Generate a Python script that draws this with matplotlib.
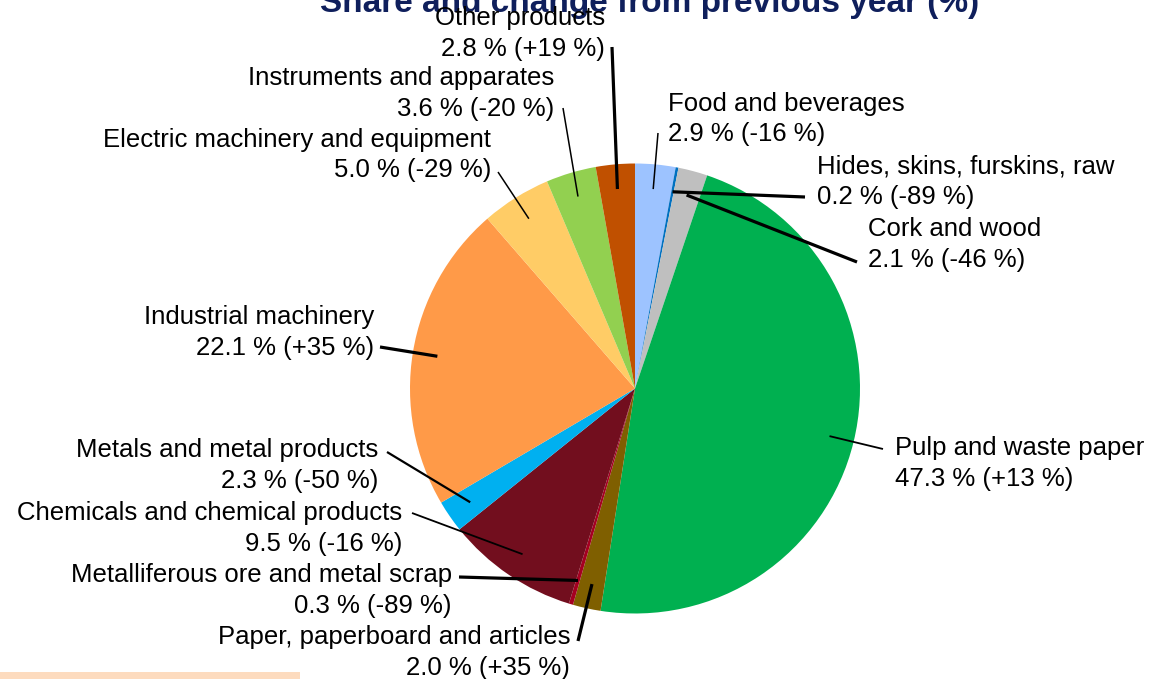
import matplotlib
matplotlib.use('Agg')
import matplotlib.pyplot as plt
import numpy as np

plt.rcParams['font.family'] = ['Liberation Sans', 'DejaVu Sans']

# ---- data ----
categories = ["Food and beverages", "Hides, skins, furskins, raw", "Cork and wood",
              "Pulp and waste paper", "Paper, paperboard and articles",
              "Metalliferous ore and metal scrap", "Chemicals and chemical products",
              "Metals and metal products", "Industrial machinery",
              "Electric machinery and equipment", "Instruments and apparates",
              "Other products"]
shares = [2.9, 0.2, 2.1, 47.3, 2.0, 0.3, 9.5, 2.3, 22.1, 5.0, 3.6, 2.8]
changes = ["-16", "-89", "-46", "+13", "+35", "-89", "-16", "-50", "+35", "-29", "-20", "+19"]
title = "Share and change from previous year (%)"

# ---- styling / layout ----
colors = ["#9DC3FF", "#0070C0", "#BFBFBF", "#00B050", "#7F5F00", "#A50021",
          "#720E1E", "#00B0F0", "#FF9A48", "#FFCC66", "#92D050", "#C05000"]
W, H = 1150, 679
cx, cy, R = 635, 388.5, 225

# label text anchor (px), horizontal alignment, leader outer end (px), leader width
label_pos = [(668, 119), (817, 181.5), (868, 244.5), (895, 463.5), (570, 652.5), (452, 590.5),
             (402, 528.5), (378, 465.5), (374, 332.5), (491, 155), (554, 93.5), (605, 33.5)]
label_ha = ["left", "left", "left", "left", "right", "right",
            "right", "right", "right", "right", "right", "right"]
leader_out = [(658, 133), (805, 197), (857, 262), (883, 449), (578, 641), (459, 577),
              (412, 513), (387, 452), (380, 347), (498, 172), (563, 108), (612, 47)]
leader_lw = [1.1, 2.3, 2.3, 1.3, 2.3, 2.3, 1.3, 1.6, 2.3, 1.1, 1.1, 2.3]


def Y(y):
    return H - y


fig = plt.figure(figsize=(W / 100, H / 100), dpi=100)
ax = fig.add_axes([0, 0, 1, 1])

wedges, _ = ax.pie(shares, colors=colors, startangle=90, counterclock=False,
                   center=(cx, Y(cy)), radius=R,
                   wedgeprops=dict(linewidth=0))

for i, w in enumerate(wedges):
    th = np.deg2rad((w.theta1 + w.theta2) / 2)
    ix = cx + 0.89 * R * np.cos(th)
    iy = Y(cy) + 0.89 * R * np.sin(th)
    ox, oy = leader_out[i]
    ax.plot([ix, ox], [iy, Y(oy)], color='black', lw=leader_lw[i],
            solid_capstyle='butt', zorder=5)
    lx, ly = label_pos[i]
    ax.text(lx, Y(ly), f"{categories[i]}\n{shares[i]:.1f} % ({changes[i]} %)",
            ha=label_ha[i], va='center', multialignment=label_ha[i],
            fontsize=18.5, linespacing=1.34, color='black', zorder=6)

ax.text(650, Y(12), title, ha='center', va='baseline', fontsize=24,
        fontweight='bold', color='#0F1F5C', zorder=4)

ax.add_patch(plt.Rectangle((0, 0), 300, 7, facecolor='#FDDBBE', edgecolor='none'))

ax.set_xlim(0, W)
ax.set_ylim(0, H)
ax.set_aspect('equal')
ax.axis('off')

fig.savefig('out.png', dpi=100)
